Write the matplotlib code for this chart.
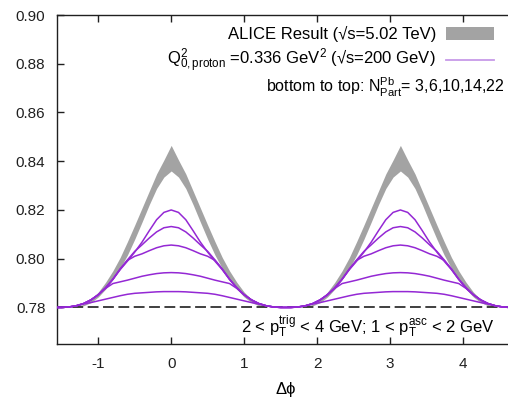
import numpy as np
import matplotlib
matplotlib.use('Agg')
import matplotlib.pyplot as plt
from matplotlib.patches import Rectangle
from matplotlib.lines import Line2D

plt.rcParams['font.family'] = ['Liberation Sans', 'DejaVu Sans']
plt.rcParams['mathtext.fontset'] = 'custom'
plt.rcParams['mathtext.rm'] = 'Liberation Sans'
plt.rcParams['mathtext.it'] = 'Liberation Sans:italic'
plt.rcParams['mathtext.bf'] = 'Liberation Sans:bold'

# half profile of each peak: distance from peak centre (0 and pi)
d_half = [0.0, 0.1, 0.2, 0.3, 0.4, 0.5, 0.6, 0.7, 0.8, 0.9, 1.0, 1.1, 1.2, 1.3, 1.4, 1.5, np.pi / 2]

# model curves, bottom to top: N_part^Pb = 3, 6, 10, 14, 22
npart = [3, 6, 10, 14, 22]
curve_3 = [.7865, .7865, .7864, .7862, .7860, .7858, .7854, .7848, .7841, .7834, .7827, .7820, .7814, .7807, .7802, .7800, .7800]
curve_6 = [.7943, .7942, .7939, .7934, .7928, .7920, .7912, .7905, .7898, .7878, .7852, .7831, .7816, .7807, .7802, .7800, .7800]
curve_10 = [.8056, .8053, .8045, .8033, .8020, .8010, .7993, .7958, .7916, .7881, .7852, .7831, .7816, .7807, .7802, .7800, .7800]
curve_14 = [.8132, .8127, .8110, .8085, .8057, .8030, .7995, .7957, .7915, .7880, .7852, .7831, .7816, .7807, .7802, .7800, .7800]
curve_22 = [.8200, .8190, .8160, .8115, .8068, .8027, .7990, .7955, .7915, .7880, .7852, .7831, .7816, .7807, .7802, .7800, .7800]

# ALICE band (upper / lower edge)
d_band = [0.0, 0.1, 0.2, 0.3, 0.4, 0.5, 0.6, 0.7, 0.8, 0.9, 1.0, 1.1, 1.2, 1.3]
alice_hi = [.8465, .8405, .8348, .8278, .8208, .8138, .8070, .8005, .7950, .7903, .7863, .7833, .7813, .7803]
alice_lo = [.8360, .8335, .8288, .8222, .8150, .8080, .8015, .7960, .7915, .7875, .7843, .7820, .7807, .7801]

baseline = 0.78
xticks = [-1, 0, 1, 2, 3, 4]
yticks = [0.78, 0.80, 0.82, 0.84, 0.86, 0.88, 0.90]


def two_peaks(d, v):
    # mirror the half profile round the near-side (0) and away-side (pi) peaks
    d = np.asarray(d)
    v = np.asarray(v)
    x1 = np.concatenate([-d[::-1], d[1:]])
    y1 = np.concatenate([v[::-1], v[1:]])
    return np.concatenate([x1, x1 + np.pi]), np.concatenate([y1, y1])


fig = plt.figure(figsize=(5.08, 3.97), dpi=100)
ax = fig.add_axes([0.1114, 0.1335, 0.9024, 0.8287])

# gray ALICE bands
bx, bhi = two_peaks(d_band, alice_hi)
_, blo = two_peaks(d_band, alice_lo)
n = len(bx) // 2
for s in (slice(0, n), slice(n, None)):
    ax.fill_between(bx[s], blo[s], bhi[s], color='#a3a3a3', lw=0, zorder=2)

ax.axhline(baseline, color='#303030', lw=1.3, ls=(0, (6, 2.5)), zorder=3)

for c in [curve_3, curve_6, curve_10, curve_14, curve_22]:
    x, y = two_peaks(d_half, c)
    ax.plot(x, y, color='#9428d4', lw=1.1, zorder=4)

ax.set_xlim(-np.pi / 2, 3 * np.pi / 2)
ax.set_ylim(0.765, 0.90)
ax.set_xticks(xticks)
ax.set_xticklabels([str(t) for t in xticks])
ax.set_yticks(yticks)
ax.set_yticklabels(['%.2f' % t for t in yticks])
ax.tick_params(direction='in', length=5, width=1, top=True, right=False,
               labelsize=11, colors='#202020')
ax.tick_params(axis='x', pad=9)
ax.tick_params(axis='y', pad=8)
for sp in ['left', 'bottom', 'top']:
    ax.spines[sp].set_linewidth(1.0)
    ax.spines[sp].set_color('#202020')
ax.spines['right'].set_visible(False)

ax.set_xlabel('Δϕ', fontsize=12)
ax.xaxis.set_label_coords(0.5, -0.115)

# key, drawn in figure pixels
W, H = 508.0, 397.0
ft = fig.transFigure
fig.text(436 / W, 1 - 34 / H, 'ALICE Result (√s=5.02 TeV)', ha='right', va='center', fontsize=12)
fig.patches.append(Rectangle((446 / W, 1 - 40 / H), 48 / W, 13 / H, transform=ft,
                             facecolor='#a3a3a3', edgecolor='none'))
fig.text(436 / W, 1 - 61 / H,
         r'Q$^{2}_{\mathrm{0,proton}}$ =0.336 GeV$^{2}$ (√s=200 GeV)',
         ha='right', va='center', fontsize=12)
fig.lines.append(Line2D([446 / W, 494 / W], [1 - 60 / H, 1 - 60 / H], transform=ft,
                        color='#c79ae8', lw=1.3))
fig.text(505 / W, 1 - 87 / H,
         r'bottom to top: N$^{\mathrm{Pb}}_{\mathrm{Part}}$= ' + ','.join(str(v) for v in npart),
         ha='right', va='center', fontsize=11.5)

fig.text(495 / W, 1 - 327 / H,
         r'2 < p$_{\mathrm{T}}^{\mathrm{trig}}$ < 4 GeV; 1 < p$_{\mathrm{T}}^{\mathrm{asc}}$ < 2 GeV',
         ha='right', va='center', fontsize=12)

fig.savefig('out.png', dpi=100)
